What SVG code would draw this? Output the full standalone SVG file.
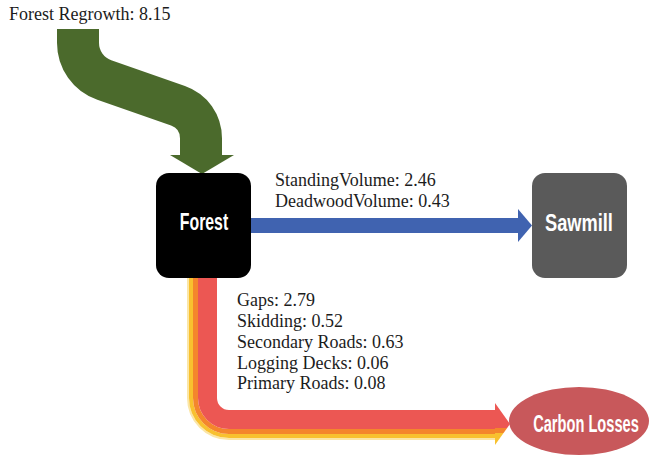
<svg xmlns="http://www.w3.org/2000/svg" width="649" height="457" viewBox="0 0 649 457">
  <style>
    .lbl { font-family: "Liberation Serif", "Times New Roman", serif; font-size: 18px; fill: #1c1c1c; }
    .node-text { font-family: "Liberation Sans", Arial, sans-serif; font-weight: bold; font-size: 24px; fill: #ffffff; text-anchor: middle; }
    .band { fill: none; }
  </style>
  <defs>
    <clipPath id="lossHead">
      <polygon points="495,403 510,424 495,445"/>
    </clipPath>
  </defs>

  <rect width="649" height="457" fill="#ffffff"/>

  <g id="connectors">
    <!-- regrowth inflow -->
    <g id="flow-regrowth">
      <path d="M78,29 V42.8 C78,59.7 88.4,74.4 104.3,80 L178,105.8 C192,110.7 201,123.5 201,138.4 V156" stroke="#4b6a2c" stroke-width="42" fill="none"/>
      <polygon points="170,155 234,155 202,174" fill="#4b6a2c"/>
    </g>
    <!-- volume outflow to sawmill -->
    <g id="flow-volume">
      <rect x="248" y="218" width="271" height="15" fill="#4063b0"/>
      <polygon points="518,209 532,225.5 518,242" fill="#4063b0"/>
    </g>
    <!-- carbon loss outflow, layered bands -->
    <g id="flow-losses">
      <path class="band" d="M188,270 V398 A41,41 0 0 0 229,439 H496" stroke="#fbe6a6" stroke-width="2"/>
      <path class="band" d="M191,270 V398 A38,38 0 0 0 229,436 H496" stroke="#f8c12f" stroke-width="4"/>
      <path class="band" d="M195.5,270 V398 A33.5,33.5 0 0 0 229,431.5 H496" stroke="#f4862c" stroke-width="5"/>
      <path class="band" d="M207.5,270 V398 A21.5,21.5 0 0 0 229,419.5 H496" stroke="#ec5753" stroke-width="19"/>
      <g clip-path="url(#lossHead)">
        <rect x="494" y="400" width="17" height="28" fill="#ec5753"/>
        <rect x="494" y="428" width="17" height="5" fill="#f4862c"/>
        <rect x="494" y="433" width="17" height="14" fill="#f8c12f"/>
      </g>
    </g>
  </g>

  <g id="node-forest">
    <rect x="156" y="173" width="95" height="105" rx="13" fill="#000000"/>
    <text class="node-text" transform="translate(204,230) scale(0.66,1)">Forest</text>
  </g>

  <g id="node-sawmill">
    <rect x="532" y="173" width="95" height="105" rx="13" fill="#5a5a5a"/>
    <text class="node-text" transform="translate(579,231) scale(0.76,1)">Sawmill</text>
  </g>

  <g id="node-carbon-losses">
    <ellipse cx="579" cy="421" rx="70" ry="34" fill="#c8585b"/>
    <text class="node-text" transform="translate(586,432) scale(0.61,1)">Carbon Losses</text>
  </g>

  <g id="labels">
    <text class="lbl" x="9" y="20">Forest Regrowth: 8.15</text>
    <text class="lbl" x="275" y="186">StandingVolume: 2.46</text>
    <text class="lbl" x="275" y="207">DeadwoodVolume: 0.43</text>
    <text class="lbl" x="237" y="306">Gaps: 2.79</text>
    <text class="lbl" x="237" y="327">Skidding: 0.52</text>
    <text class="lbl" x="237" y="348">Secondary Roads: 0.63</text>
    <text class="lbl" x="237" y="369">Logging Decks: 0.06</text>
    <text class="lbl" x="237" y="389">Primary Roads: 0.08</text>
  </g>
</svg>
